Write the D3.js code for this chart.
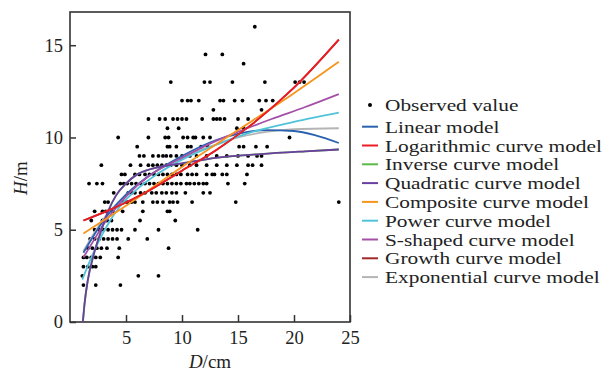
<!DOCTYPE html>
<html>
<head>
<meta charset="utf-8">
<script src="https://cdn.jsdelivr.net/npm/d3@7"></script>
<style>
  body { margin: 0; background: #fff; }
  svg { display: block; font-family: "Liberation Serif", "Times New Roman", serif; }
</style>
</head>
<body>
<svg id="chart" width="609" height="372"></svg>
<script>
// observed points, grouped by height row (H, list of D)
const obsRows = [
  [16, [16.5]],
  [14.5, [12.1, 13.6]],
  [14, [15.5]],
  [13, [9.0, 12.0, 12.5, 14.5, 17.4, 20.1, 20.5, 20.9]],
  [12, [10.0, 10.5, 10.8, 11.5, 13.4, 13.7, 14.7, 15.4, 16.9, 17.5, 18.1]],
  [11.5, [12.8, 17.1]],
  [11, [7.0, 8.0, 8.5, 9.2, 9.6, 10.0, 10.4, 11.8, 12.8, 13.1, 13.4, 13.8, 15.0, 15.9]],
  [10.5, [8.7, 9.7, 14.9, 15.5]],
  [10, [4.3, 7.0, 8.5, 8.8, 10.1, 10.5, 11.0, 11.2, 11.9, 12.5, 19.6]],
  [9.5, [6.0, 8.7, 8.9, 9.5, 10.5, 10.8, 11.7, 12.3, 15.1, 15.5, 16.6, 17.6]],
  [9, [6.2, 6.6, 7.4, 7.9, 8.3, 8.6, 9.0, 9.5, 10.0, 10.7, 11.3, 12.2, 13.1, 14.0, 15.0, 15.9, 16.7, 17.1]],
  [8.5, [2.8, 5.4, 6.3, 7.0, 7.4, 7.8, 8.2, 8.6, 9.0, 9.5, 10.0, 10.7, 11.3, 12.2, 13.1, 14.0, 14.9, 15.9, 16.3, 17.1]],
  [8, [4.6, 4.9, 5.8, 6.2, 6.7, 7.1, 7.5, 7.9, 8.3, 8.7, 9.1, 9.5, 9.9, 10.5, 10.9, 11.3, 12.2, 12.7, 12.9, 13.6, 14.0, 15.8]],
  [7.5, [1.7, 2.4, 2.9, 4.5, 4.8, 5.1, 5.5, 5.9, 6.3, 6.7, 7.1, 7.5, 7.9, 8.3, 8.7, 9.1, 9.5, 9.9, 10.4, 10.7, 11.1, 11.5, 11.9, 12.2, 14.1, 15.6]],
  [7, [3.9, 5.2, 5.5, 5.8, 6.3, 6.7, 7.3, 7.7, 8.2, 8.6, 9.1, 9.5, 10.3, 11.9, 12.5]],
  [6.5, [3.1, 3.4, 4.8, 5.1, 5.5, 5.8, 6.5, 7.4, 7.8, 8.3, 8.9, 9.2, 9.6, 10.9, 14.8, 24.0]],
  [6, [2.2, 2.9, 3.2, 3.8, 4.7, 6.5, 8.7, 8.9]],
  [5.5, [1.9, 2.9, 3.3, 3.7, 6.25, 9.4]],
  [5, [2.2, 2.6, 3.0, 3.4, 3.8, 4.2, 4.6, 5.8, 7.9, 11.4]],
  [4.5, [1.8, 2.2, 2.6, 3.0, 3.4, 3.8, 4.2, 5.2, 6.9]],
  [4, [1.6, 2.0, 2.4, 2.8, 3.3, 4.4, 8.8]],
  [3.5, [1.2, 1.5, 1.9, 2.3, 2.7, 4.3]],
  [3, [1.2, 1.6, 2.0, 2.3]],
  [2.5, [1.1, 6.1, 7.9]],
  [2, [1.2, 2.3, 4.5]]
]

// fitted curves: D samples and H values
const linearD = [1.2, 3, 5, 7, 10, 13, 15, 17.5, 20, 22, 24]
const linearH = [3.75, 5.5, 6.9, 7.9, 9.0, 9.85, 10.2, 10.4, 10.35, 10.1, 9.7]
const logD = [1.2, 4, 7, 10, 13, 16, 20, 24]
const logH = [5.5, 6.2, 7.1, 8.2, 9.3, 10.6, 12.7, 15.3]
const inverseD = [1.15, 1.3, 1.6, 2.05, 2.7, 3.4, 4.1, 5, 6, 7, 8, 10, 13, 17, 21, 24]
const inverseH = [0, 1.0, 2.3, 3.5, 4.8, 6.0, 6.85, 7.5, 8.0, 8.25, 8.4, 8.6, 8.9, 9.1, 9.25, 9.35]
const quadD = [1.15, 1.3, 1.6, 2.05, 2.7, 3.4, 4.1, 5, 6, 7, 8, 10, 13, 17, 21, 24]
const quadH = [0, 1.0, 2.3, 3.5, 4.8, 6.0, 6.85, 7.5, 8.0, 8.25, 8.4, 8.6, 8.9, 9.1, 9.25, 9.35]
const compD = [1.2, 5, 10, 15, 20, 24]
const compH = [4.8, 6.3, 8.4, 10.4, 12.4, 14.1]
const powerD = [1.1, 2.2, 3.1, 4.5, 6, 8, 10, 13, 16, 20, 24]
const powerH = [2.3, 3.9, 5.0, 6.3, 7.2, 8.1, 8.8, 9.6, 10.25, 10.85, 11.35]
const sD = [1.2, 2, 3, 5, 7, 10, 13, 15, 18, 21, 24]
const sH = [3.5, 4.3, 5.3, 6.8, 7.9, 8.9, 9.8, 10.3, 11.0, 11.65, 12.35]
const growthD = [1.2, 4, 7, 10, 13, 16, 20, 24]
const growthH = [5.5, 6.2, 7.1, 8.2, 9.3, 10.6, 12.7, 15.3]
const expD = [1.2, 3, 5, 7, 10, 13, 15, 17.5, 20, 24]
const expH = [3.85, 5.6, 6.9, 7.9, 8.9, 9.6, 10.0, 10.3, 10.45, 10.5]

const legendNames = ['Linear model', 'Logarithmic curve model', 'Inverse curve model', 'Quadratic curve model',
  'Composite curve model', 'Power curve model', 'S-shaped curve model', 'Growth curve model', 'Exponential curve model']
const legendColors = ['#2a62b0', '#ec1c24', '#5cb847', '#6b3fa0', '#f7941d', '#51c3d8', '#a450a8', '#a3282c', '#b4b4b4']
const curveD = [linearD, logD, inverseD, quadD, compD, powerD, sD, growthD, expD]
const curveH = [linearH, logH, inverseH, quadH, compH, powerH, sH, growthH, expH]
const drawOrder = [2, 7, 8, 0, 5, 6, 3, 4, 1]

const xTicks = [5, 10, 15, 20, 25]
const yTicks = [0, 5, 10, 15]

const serif = '"Liberation Serif", "Times New Roman", serif'
const plotLeft = 70, plotRight = 350, plotTop = 12, plotBottom = 322
const svg = d3.select('#chart')

const xScale = d3.scaleLinear().domain([0, 25]).range([plotLeft, plotRight])
const yScale = d3.scaleLinear().domain([0, 16.8]).range([plotBottom, plotTop])

// frame
svg.append('rect')
  .attr('x', plotLeft).attr('y', plotTop)
  .attr('width', plotRight - plotLeft).attr('height', plotBottom - plotTop)
  .attr('fill', 'none').attr('stroke', '#333').attr('stroke-width', 1.6)

let yAxis = svg.append('g')
  .attr('transform', `translate(${plotLeft},0)`)
  .call(d3.axisLeft(yScale).tickValues(yTicks).tickSizeInner(-6).tickSizeOuter(0).tickPadding(7))
yAxis.select('.domain').remove()
yAxis.selectAll('line').attr('stroke', '#333').attr('stroke-width', 1.5)
yAxis.selectAll('text').style('font-size', '18.5px').style('font-family', serif).attr('fill', '#222')

let xAxis = svg.append('g')
  .attr('transform', `translate(0,${plotBottom})`)
  .call(d3.axisBottom(xScale).tickValues(xTicks).tickSizeInner(-7).tickSizeOuter(0).tickPadding(9))
xAxis.select('.domain').remove()
xAxis.selectAll('line').attr('stroke', '#333').attr('stroke-width', 1.5)
xAxis.selectAll('text').style('font-size', '18.5px').style('font-family', serif).attr('fill', '#222')

// axis titles
let yTitle = svg.append('text')
  .attr('transform', 'translate(27,178) rotate(-90)')
  .attr('text-anchor', 'middle')
  .style('font-size', '19px').attr('fill', '#222')
yTitle.append('tspan').style('font-style', 'italic').text('H')
yTitle.append('tspan').text('/m')

let xTitle = svg.append('text')
  .attr('x', 210).attr('y', 368)
  .attr('text-anchor', 'middle')
  .style('font-size', '19px').attr('fill', '#222')
xTitle.append('tspan').style('font-style', 'italic').text('D')
xTitle.append('tspan').text('/cm')

// observed dots
let obs = []
obsRows.forEach(r => r[1].forEach(d => obs.push([d, r[0]])))
svg.append('g').selectAll('circle')
  .data(obs).enter().append('circle')
  .attr('cx', d => xScale(d[0]))
  .attr('cy', d => yScale(d[1]))
  .attr('r', 1.9)
  .attr('fill', '#000')

// model curves
const line = d3.line()
  .x(d => xScale(d[0]))
  .y(d => yScale(d[1]))
  .curve(d3.curveMonotoneX)
drawOrder.forEach(i => {
  svg.append('path')
    .datum(curveD[i].map((d, k) => [d, curveH[i][k]]))
    .attr('d', line)
    .attr('fill', 'none')
    .attr('stroke', legendColors[i])
    .attr('stroke-width', 1.8)
})

// legend
const legX = 362, legTextX = 385, legY0 = 126.7, legStep = 18.8
const legend = svg.append('g')
legend.append('circle').attr('cx', 370).attr('cy', 105).attr('r', 2).attr('fill', '#000')
legend.append('g').attr('transform', `translate(${legTextX},105) scale(1.22,1)`)
  .append('text').attr('dy', '0.35em').style('font-size', '17.5px').attr('fill', '#222').text('Observed value')
legendNames.forEach((name, i) => {
  let y = legY0 + i * legStep
  legend.append('line')
    .attr('x1', legX).attr('x2', legX + 16)
    .attr('y1', y).attr('y2', y)
    .attr('stroke', legendColors[i]).attr('stroke-width', 2)
  legend.append('g').attr('transform', `translate(${legTextX},${y}) scale(1.22,1)`)
    .append('text').attr('dy', '0.35em').style('font-size', '17.5px').attr('fill', '#222').text(name)
})
</script>
</body>
</html>
